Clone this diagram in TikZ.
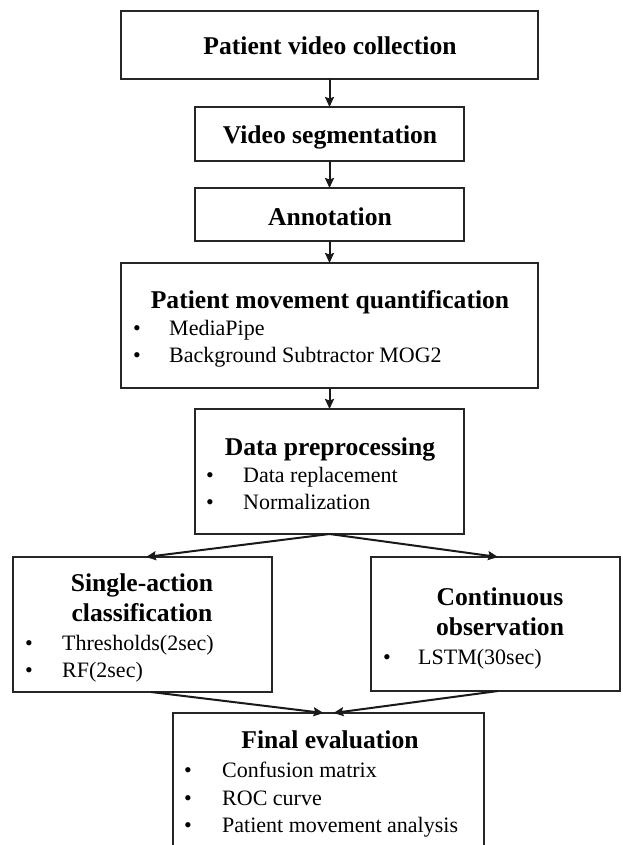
\documentclass[tikz,border=0pt]{standalone}
\usepackage{fontspec}
\setmainfont{Liberation Serif}
\usetikzlibrary{arrows.meta}
\begin{document}
\begin{tikzpicture}[x=1pt,y=-1pt,
  box/.style={draw=black!85,line width=1.4pt,inner sep=0pt,outer sep=0pt,anchor=north west},
  ttl/.style={font=\fontsize{25.6}{30}\selectfont\bfseries,anchor=base,inner sep=0pt},
  itm/.style={font=\fontsize{22}{26}\selectfont,anchor=base west,inner sep=0pt},
  dot/.style={font=\fontsize{22}{26}\selectfont,anchor=base,inner sep=0pt},
  arr/.style={line width=2pt,black!90,-{Stealth[length=10pt,width=9pt,inset=1.5pt]}}]
\useasboundingbox (0,0) rectangle (622,845);

% process boxes
\node[box,minimum width=417pt,minimum height=68pt] (collect) at (121,11) {};
\node[box,minimum width=269pt,minimum height=54pt] (segment) at (195,107) {};
\node[box,minimum width=269pt,minimum height=53pt] (annot) at (195,188) {};
\node[box,minimum width=417pt,minimum height=125pt] (quant) at (121,263) {};
\node[box,minimum width=269pt,minimum height=125pt] (prep) at (195,409) {};
\node[box,minimum width=259pt,minimum height=135pt] (single) at (13,557) {};
\node[box,minimum width=249pt,minimum height=134pt] (contin) at (371,557) {};
\node[box,minimum width=311pt,minimum height=160pt] (final) at (173,713) {};

% titles
\node[ttl] (t1) at (330,55) {Patient video collection};
\node[ttl] (t2) at (330,144) {Video segmentation};
\node[ttl] (t3) at (330,225) {Annotation};
\node[ttl] (t4) at (330,308) {Patient movement quantification};
\node[ttl] (t5) at (330,455) {Data preprocessing};
\node[ttl] (t6a) at (142,591) {Single-action};
\node[ttl] (t6b) at (142,621) {classification};
\node[ttl] (t7a) at (500,605) {Continuous};
\node[ttl] (t7b) at (500,635) {observation};
\node[ttl] (t8) at (330,748) {Final evaluation};

% bullet lists
\node[dot] (d41) at (137,335) {•};
\node[itm] (i41) at (169,335) {MediaPipe};
\node[dot] (d42) at (137,362) {•};
\node[itm] (i42) at (169,362) {Background Subtractor MOG2};

\node[dot] (d51) at (210,482) {•};
\node[itm] (i51) at (243,482) {Data replacement};
\node[dot] (d52) at (210,509) {•};
\node[itm] (i52) at (243,509) {Normalization};

\node[dot] (d61) at (29,650) {•};
\node[itm] (i61) at (62,650) {Thresholds(2sec)};
\node[dot] (d62) at (29,677) {•};
\node[itm] (i62) at (62,677) {RF(2sec)};

\node[dot] (d71) at (387,664) {•};
\node[itm] (i71) at (418,664) {LSTM(30sec)};

\node[dot] (d81) at (188,777) {•};
\node[itm] (i81) at (222,777) {Confusion matrix};
\node[dot] (d82) at (188,805) {•};
\node[itm] (i82) at (222,805) {ROC curve};
\node[dot] (d83) at (188,832) {•};
\node[itm] (i83) at (222,832) {Patient movement analysis};

% connectors
\draw[arr] (collect.south) -- (segment.north);
\draw[arr] (segment.south) -- (annot.north);
\draw[arr] (annot.south) -- (quant.north);
\draw[arr] (quant.south) -- (prep.north);
\draw[arr] (prep.south) -- ([xshift=3.5pt]single.north);
\draw[arr] (prep.south) -- ([xshift=2.5pt]contin.north);
\draw[arr] ([xshift=8.5pt]single.south) -- ([xshift=-5pt]final.north);
\draw[arr] ([xshift=2.5pt]contin.south) -- ([xshift=5pt]final.north);
\end{tikzpicture}
\end{document}
